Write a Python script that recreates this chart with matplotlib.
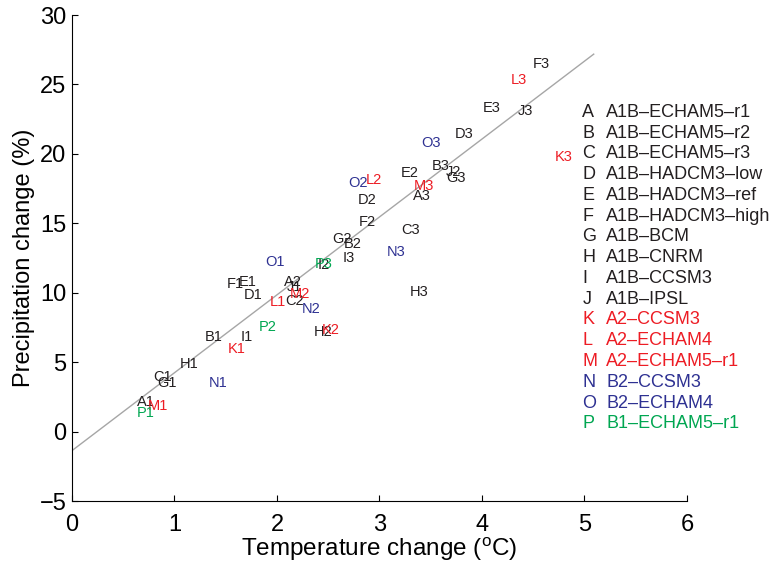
import matplotlib
matplotlib.use("Agg")
import matplotlib.pyplot as plt

plt.rcParams["font.family"] = ["Liberation Sans", "DejaVu Sans"]
plt.rcParams["mathtext.default"] = "regular"

# Model runs: letter code, description, colour group
codes = ["A", "B", "C", "D", "E", "F", "G", "H", "I", "J", "K", "L", "M", "N", "O", "P"]
names = ["A1B\u2013ECHAM5\u2013r1", "A1B\u2013ECHAM5\u2013r2", "A1B\u2013ECHAM5\u2013r3",
         "A1B\u2013HADCM3\u2013low", "A1B\u2013HADCM3\u2013ref", "A1B\u2013HADCM3\u2013high",
         "A1B\u2013BCM", "A1B\u2013CNRM", "A1B\u2013CCSM3", "A1B\u2013IPSL",
         "A2\u2013CCSM3", "A2\u2013ECHAM4", "A2\u2013ECHAM5\u2013r1",
         "B2\u2013CCSM3", "B2\u2013ECHAM4", "B1\u2013ECHAM5\u2013r1"]
groups = ["A1B"] * 10 + ["A2"] * 3 + ["B2"] * 2 + ["B1"]

# Temperature change (deg C) for periods 1, 2, 3
temp = [
    [0.63, 2.07, 3.33],  # A
    [1.30, 2.65, 3.51],  # B
    [0.79, 2.08, 3.21],  # C
    [1.68, 2.79, 3.73],  # D
    [1.63, 3.21, 4.01],  # E
    [1.51, 2.80, 4.50],  # F
    [0.83, 2.54, 3.65],  # G
    [1.05, 2.36, 3.30],  # H
    [1.65, 2.40, 2.64],  # I
    [2.10, 3.65, 4.35],  # J
    [1.52, 2.44, 4.71],  # K
    [1.93, 2.87, 4.28],  # L
    [0.74, 2.12, 3.33],  # M
    [1.33, 2.24, 3.07],  # N
    [1.89, 2.70, 3.41],  # O
    [0.63, 1.82, 2.37],  # P
]
# Precipitation change (%) for periods 1, 2, 3
precip = [
    [2.15, 10.8, 17.0],  # A
    [6.8, 13.5, 19.1],   # B
    [3.96, 9.4, 14.5],   # C
    [9.86, 16.7, 21.4],  # D
    [10.8, 18.6, 23.3],  # E
    [10.6, 15.1, 26.5],  # F
    [3.5, 13.9, 18.3],   # G
    [4.9, 7.2, 10.07],   # H
    [6.8, 12.0, 12.5],   # I
    [10.4, 18.7, 23.1],  # J
    [5.96, 7.3, 19.8],   # K
    [9.3, 18.1, 25.3],   # L
    [1.87, 9.9, 17.7],   # M
    [3.5, 8.8, 12.9],    # N
    [12.2, 17.9, 20.8],  # O
    [1.37, 7.5, 12.1],   # P
]

# Linear fit shown in grey
fit_slope = 5.61
fit_intercept = -1.37
fit_xrange = [0.0, 5.09]

group_colors = {"A1B": "#231f20", "A2": "#ed1c24", "B2": "#2e3192", "B1": "#00a651"}

fig = plt.figure(figsize=(7.7, 5.7), dpi=100)
ax = fig.add_axes([0.0935, 0.121, 0.7987, 0.8526])

fit_y = [fit_intercept + fit_slope * x for x in fit_xrange]
ax.plot(fit_xrange, fit_y, color="#a6a6a6", linewidth=1.0)

for code, grp, xs, ys in zip(codes, groups, temp, precip):
    for k, (x, y) in enumerate(zip(xs, ys)):
        ax.text(x, y, f"{code}{k + 1}", color=group_colors[grp], fontsize=10.5,
                ha="left", va="center")

# Text legend on the right
for i, (code, name, grp) in enumerate(zip(codes, names, groups)):
    yy = 23.0 - 1.496 * i
    ax.text(4.98, yy, code, color=group_colors[grp], fontsize=13,
            ha="left", va="center", clip_on=False)
    ax.text(5.21, yy, name, color=group_colors[grp], fontsize=13,
            ha="left", va="center", clip_on=False)

ax.set_xlim(0, 6)
ax.set_ylim(-5, 30)
ax.set_xticks(range(0, 7))
ax.set_yticks(range(-5, 31, 5))
ax.spines["top"].set_visible(False)
ax.spines["right"].set_visible(False)
ax.tick_params(direction="in", length=4.5, labelsize=17)
ax.tick_params(axis="x", pad=9)
ax.tick_params(axis="y", pad=4)
ax.set_xlabel("Temperature change ($^{o}$C)", fontsize=17.5, labelpad=0)
ax.set_ylabel("Precipitation change (%)", fontsize=17, labelpad=3)

fig.savefig("out.png", dpi=100)
